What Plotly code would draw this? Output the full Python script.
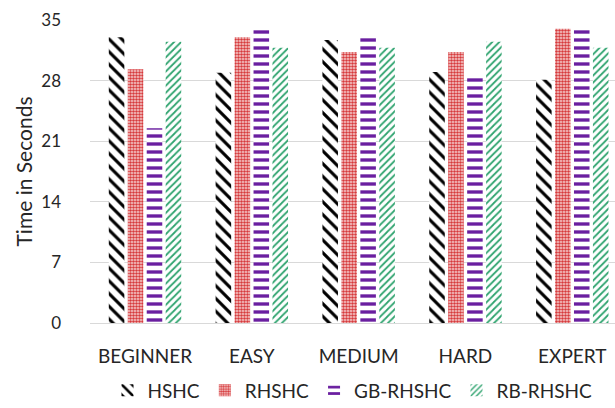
import plotly.graph_objects as go

categories = ["BEGINNER", "EASY", "MEDIUM", "HARD", "EXPERT"]
hshc = [33.0, 28.9, 32.7, 29.0, 28.1]
rhshc = [29.3, 33.0, 31.3, 31.3, 34.0]
gb_rhshc = [22.5, 34.0, 33.0, 28.3, 34.0]
rb_rhshc = [32.5, 31.8, 31.8, 32.5, 31.8]
y_ticks = [0, 7, 14, 21, 28, 35]

series = [
    ("HSHC", hshc, dict(shape="\\", fgcolor="#000000", bgcolor="white", size=9, solidity=0.35)),
    ("RHSHC", rhshc, dict(shape=".", fgcolor="#d63a3c", bgcolor="#f7d4d4", size=3, solidity=0.55)),
    ("GB-RHSHC", gb_rhshc, dict(shape="-", fgcolor="#6a1fa0", bgcolor="white", size=8, solidity=0.42)),
    ("RB-RHSHC", rb_rhshc, dict(shape="/", fgcolor="#2ea36e", bgcolor="white", size=5, solidity=0.35)),
]

fig = go.Figure()
for name, vals, pat in series:
    fig.add_trace(go.Bar(
        x=categories, y=vals, name=name,
        marker=dict(color="white", line=dict(width=0), pattern=dict(fillmode="replace", **pat)),
    ))

font = "Lato, Open Sans, sans-serif"
fig.update_layout(
    width=615, height=408,
    margin=dict(l=90, r=0, t=20, b=85, autoexpand=False),
    paper_bgcolor="white", plot_bgcolor="white",
    barmode="group", bargap=0.29, bargroupgap=0.18,
    font=dict(family=font, size=19, color="#262626"),
    legend=dict(orientation="h", x=0.5, xanchor="center", y=-0.16, yanchor="top",
                font=dict(size=19, color="#262626"), itemwidth=30),
    xaxis=dict(showgrid=False, showline=True, linecolor="#d9d9d9", ticks="",
               range=[-0.515, 4.4], tickfont=dict(size=19), ticklabelstandoff=16),
    yaxis=dict(range=[0, 35], tickvals=y_ticks, showgrid=True, gridcolor="#d9d9d9",
               gridwidth=1, zeroline=False, showline=False,
               ticks="", tickfont=dict(size=17), ticklabelstandoff=28,
               title=dict(text="Time in Seconds", font=dict(size=21, color="#262626"), standoff=2)),
)
fig.write_html("out.html")
